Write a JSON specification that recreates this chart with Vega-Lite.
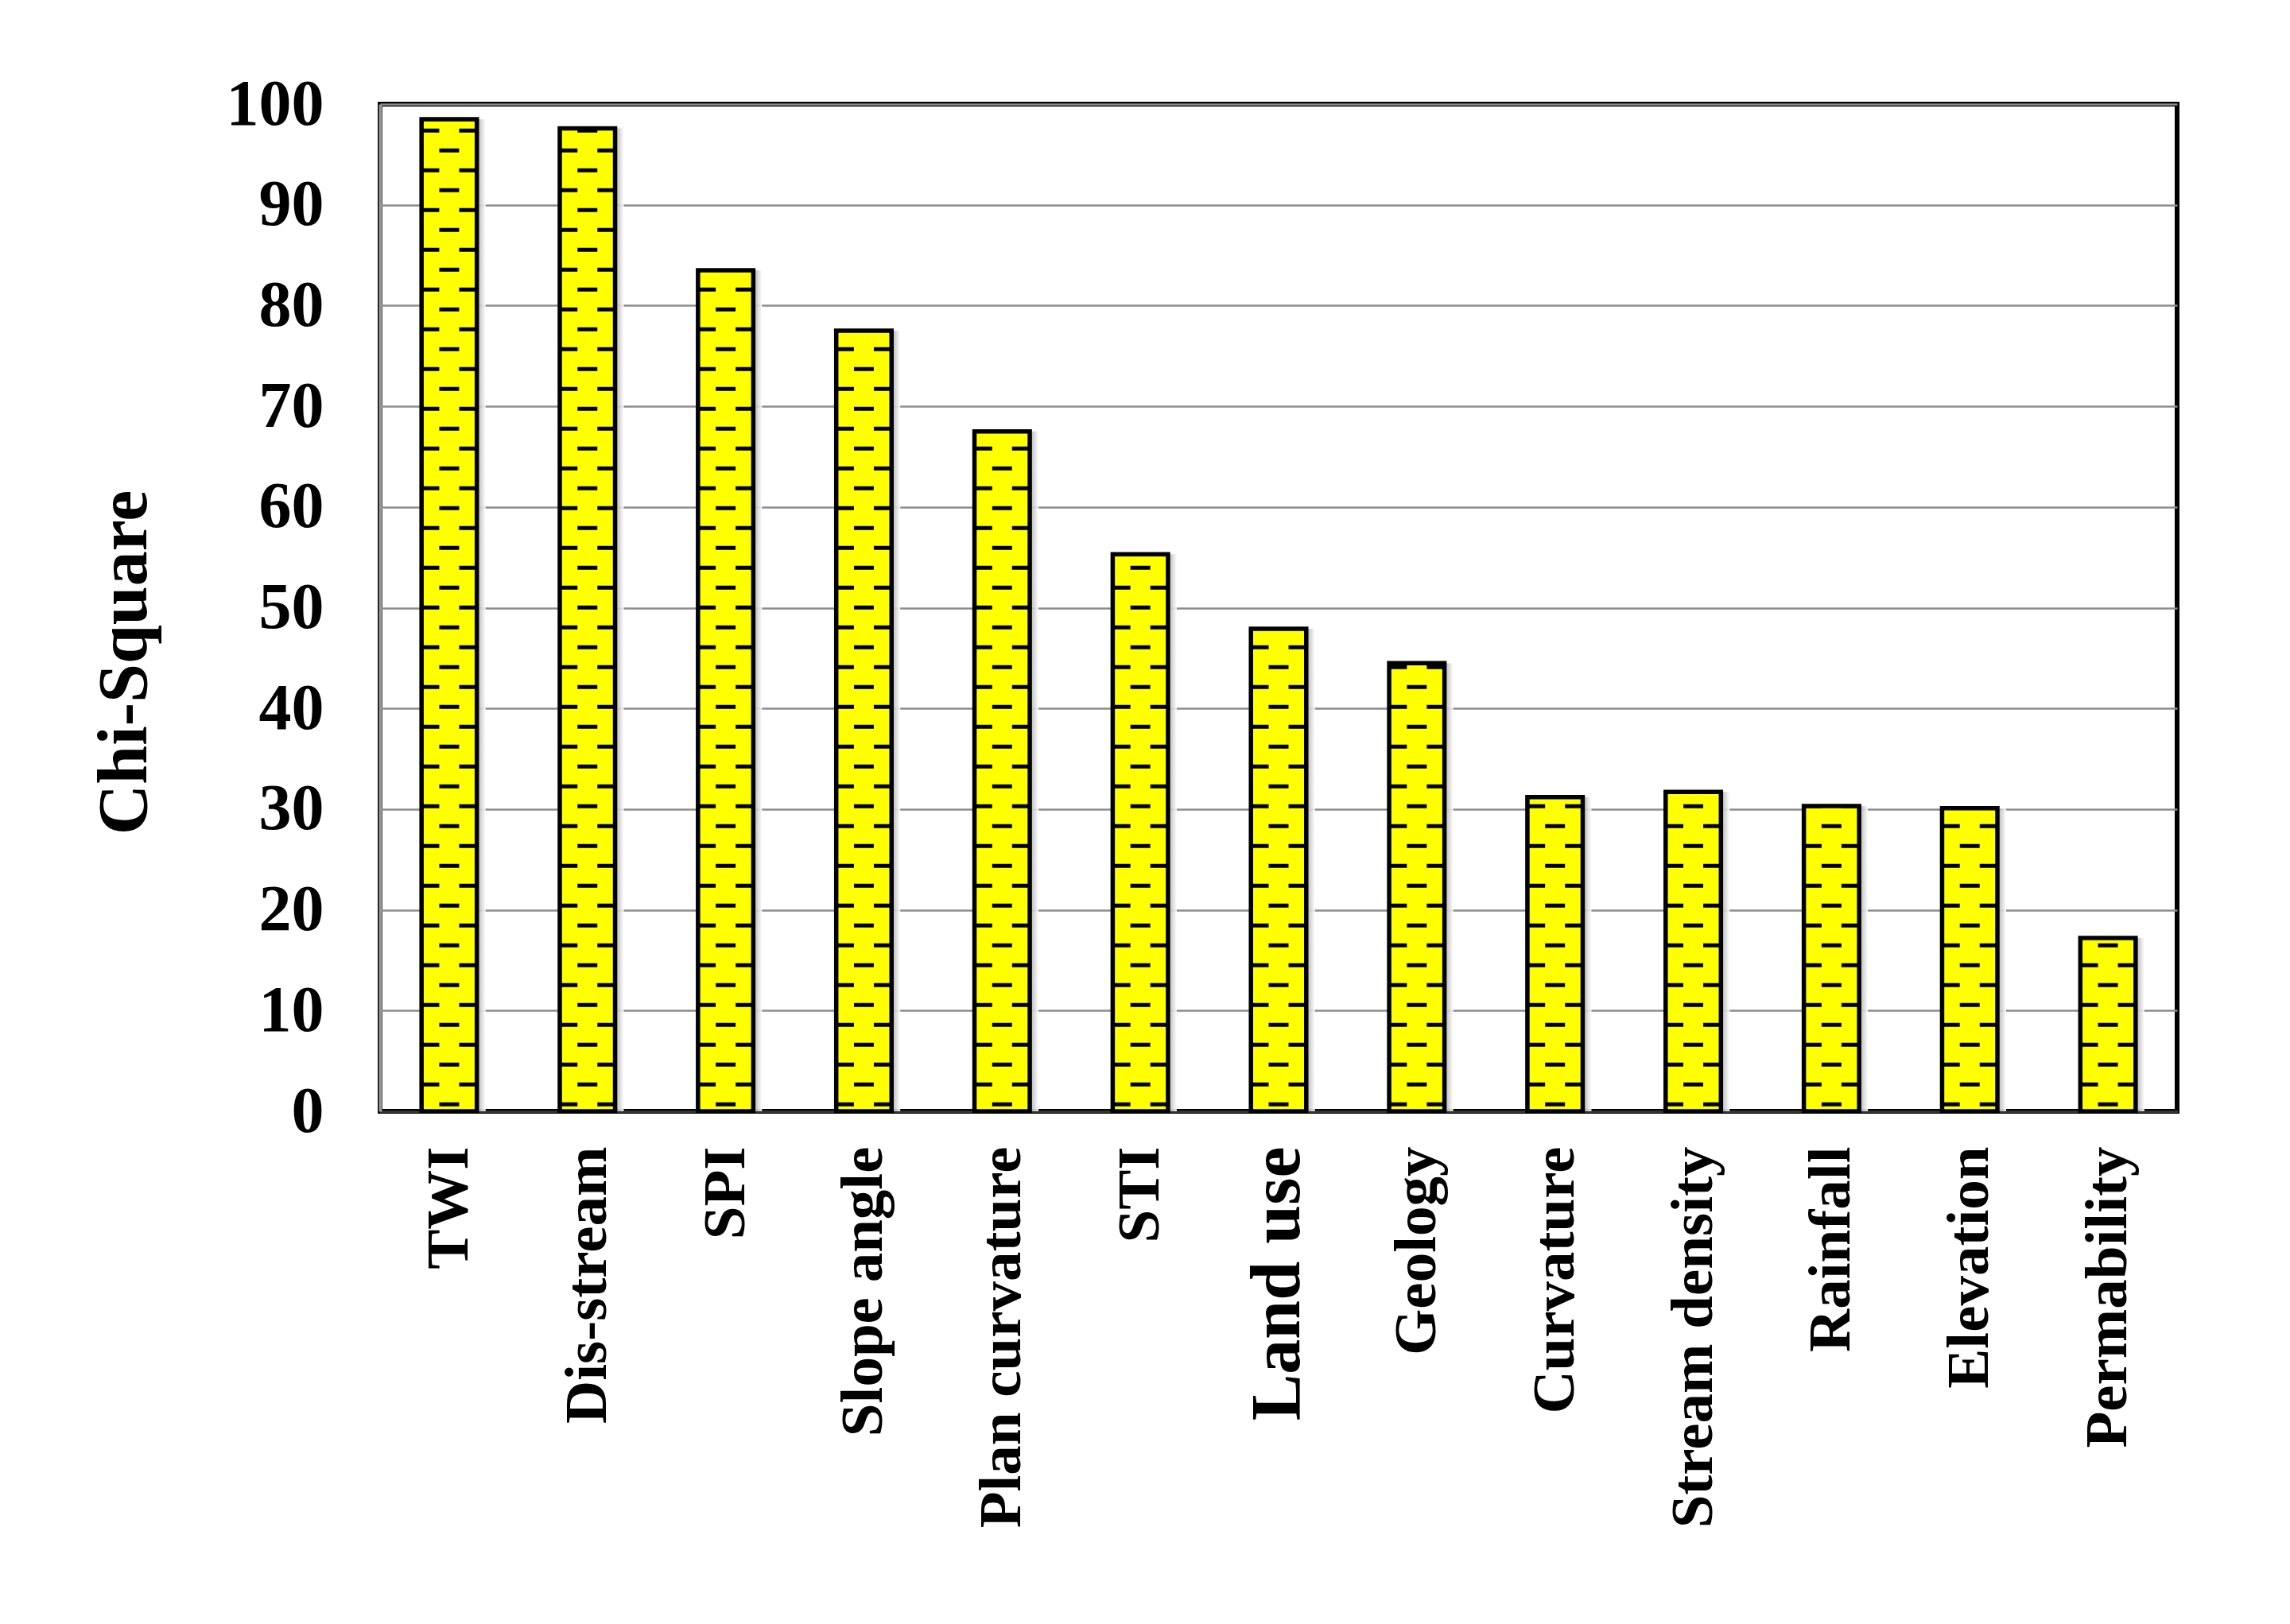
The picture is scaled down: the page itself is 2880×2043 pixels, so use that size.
{
  "$schema": "https://vega.github.io/schema/vega-lite/v6.json",
  "width": 2260,
  "height": 1267,
  "autosize": {"type": "none"},
  "padding": {"left": 478, "top": 131, "right": 142, "bottom": 645},
  "background": "white",
  "config": {
    "view": {"stroke": "black", "strokeWidth": 6},
    "font": "Liberation Serif"
  },
  "data": {
    "values": [
      {"factor": "TWI", "chi": 98.5},
      {"factor": "Dis-stream", "chi": 97.6},
      {"factor": "SPI", "chi": 83.5},
      {"factor": "Slope angle", "chi": 77.5},
      {"factor": "Plan curvature", "chi": 67.5},
      {"factor": "STI", "chi": 55.3},
      {"factor": "Land use", "chi": 47.9},
      {"factor": "Geology", "chi": 44.5},
      {"factor": "Curvature", "chi": 31.2},
      {"factor": "Stream density", "chi": 31.7},
      {"factor": "Rainfall", "chi": 30.3},
      {"factor": "Elevation", "chi": 30.1},
      {"factor": "Permability", "chi": 17.2}
    ]
  },
  "encoding": {
    "x": {
      "field": "factor",
      "type": "nominal",
      "sort": null,
      "scale": {"paddingInner": 0.6, "paddingOuter": 0.3},
      "axis": {
        "title": null,
        "ticks": false,
        "tickSize": 0,
        "grid": false,
        "domainColor": "#333333",
        "domainWidth": 3,
        "labelAngle": -90,
        "labelAlign": "right",
        "labelBaseline": "middle",
        "labelPadding": 44,
        "labelFont": "Liberation Serif",
        "labelFontWeight": "bold",
        "labelColor": "black",
        "labelFontSize": {"condition": {"test": "datum.value == 'Land use'", "value": 88}, "value": 75},
        "labelOverlap": false,
        "labelLimit": 0
      }
    }
  },
  "layer": [
    {
      "mark": {
        "type": "bar",
        "xOffset": 11,
        "fill": {"gradient": "linear", "x1": 0, "x2": 1, "y1": 0, "y2": 0,
          "stops": [{"offset": 0, "color": "#808080"}, {"offset": 0.78, "color": "#8a8a8a"}, {"offset": 0.9, "color": "#c8c8c8"}, {"offset": 1, "color": "#ffffff"}]},
        "opacity": 0.9
      },
      "encoding": {
        "y": {
          "field": "chi",
          "type": "quantitative",
          "scale": {"domain": [0, 100], "nice": false},
          "axis": {
            "values": [0, 10, 20, 30, 40, 50, 60, 70, 80, 90, 100],
            "grid": true,
            "gridColor": "#8c8c8c",
            "gridWidth": 2.5,
            "ticks": false,
            "tickSize": 0,
            "domainColor": "#999999",
            "domainWidth": 4,
            "labelFont": "Liberation Serif",
            "labelFontWeight": "bold",
            "labelFontSize": 82,
            "labelColor": "black",
            "labelPadding": 71,
            "labelFlush": false,
            "labelOverlap": false,
            "title": "Chi-Square",
            "titleFont": "Liberation Serif",
            "titleFontWeight": "bold",
            "titleFontSize": 88,
            "titleColor": "black",
            "titleAngle": -90,
            "titleAlign": "center",
            "titleBaseline": "alphabetic",
            "titleX": -295,
            "titleY": 702
          }
        }
      }
    },
    {
      "mark": {"type": "bar", "fill": "#FFFF00", "stroke": "black", "strokeWidth": 5.5},
      "encoding": {"y": {"field": "chi", "type": "quantitative"}}
    },
    {
      "mark": {"type": "rule", "color": "black", "strokeWidth": 25, "strokeCap": "butt"},
      "encoding": {
        "y": {"field": "chi", "type": "quantitative"},
        "y2": {"datum": 0},
        "strokeDash": {
          "field": "factor",
          "type": "nominal",
          "legend": null,
          "scale": {
            "domain": ["TWI", "Dis-stream", "SPI", "Slope angle", "Plan curvature", "STI", "Land use", "Geology", "Curvature", "Stream density", "Rainfall", "Elevation", "Permability"],
            "range": [[0, 36.8, 5, 8.2], [0, 0.4, 5, 44.6], [1.7, 45, 3.3, 0], [0.7, 45, 4.3, 0], [0, 44, 5, 1], [0, 14.5, 5, 30.5], [0.7, 45, 4.3, 0], [0, 27.6, 5, 17.4], [0, 34.1, 5, 10.9], [0, 15.4, 5, 29.6], [0, 22.7, 5, 22.3], [0.2, 45, 4.8, 0], [0, 6.7, 5, 38.3]]
          }
        }
      }
    },
    {
      "mark": {"type": "rule", "color": "black", "strokeWidth": 24, "strokeCap": "butt", "xOffset": -24.5},
      "encoding": {
        "y": {"field": "chi", "type": "quantitative"},
        "y2": {"datum": 0},
        "strokeDash": {
          "field": "factor",
          "type": "nominal",
          "legend": null,
          "scale": {
            "domain": ["TWI", "Dis-stream", "SPI", "Slope angle", "Plan curvature", "STI", "Land use", "Geology", "Curvature", "Stream density", "Rainfall", "Elevation", "Permability"],
            "range": [[0, 11.8, 5, 33.2], [0, 25.4, 5, 19.6], [0, 21.7, 5, 23.3], [0, 20.7, 5, 24.3], [0, 19, 5, 26], [0, 39.5, 5, 5.5], [0, 20.7, 5, 24.3], [0, 2.6, 5, 42.4], [0, 9.1, 5, 35.9], [0, 40.4, 5, 4.6], [2.7, 45, 2.3, 0], [0, 20.2, 5, 24.8], [0, 31.7, 5, 13.3]]
          }
        }
      }
    },
    {
      "mark": {"type": "rule", "color": "black", "strokeWidth": 24, "strokeCap": "butt", "xOffset": 24.5},
      "encoding": {
        "y": {"field": "chi", "type": "quantitative"},
        "y2": {"datum": 0},
        "strokeDash": {
          "field": "factor",
          "type": "nominal",
          "legend": null,
          "scale": {
            "domain": ["TWI", "Dis-stream", "SPI", "Slope angle", "Plan curvature", "STI", "Land use", "Geology", "Curvature", "Stream density", "Rainfall", "Elevation", "Permability"],
            "range": [[0, 11.8, 5, 33.2], [0, 25.4, 5, 19.6], [0, 21.7, 5, 23.3], [0, 20.7, 5, 24.3], [0, 19, 5, 26], [0, 39.5, 5, 5.5], [0, 20.7, 5, 24.3], [0, 2.6, 5, 42.4], [0, 9.1, 5, 35.9], [0, 40.4, 5, 4.6], [2.7, 45, 2.3, 0], [0, 20.2, 5, 24.8], [0, 31.7, 5, 13.3]]
          }
        }
      }
    }
  ],
  "resolve": {"scale": {"strokeDash": "independent"}}
}
